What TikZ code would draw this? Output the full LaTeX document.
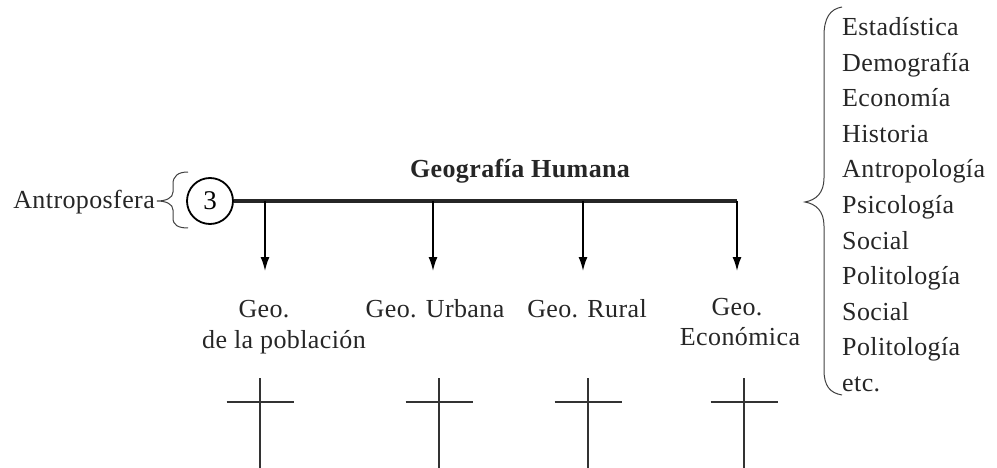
\documentclass[tikz,border=0pt]{standalone}
\usepackage{fontspec}
\setmainfont[LetterSpace=1.5]{Liberation Serif}
\usetikzlibrary{arrows.meta}
\begin{document}
\begin{tikzpicture}[x=1pt,y=-1pt,
  txt/.style={font=\fontsize{26}{30}\selectfont,inner sep=0pt,text=black!85},
  thin/.style={line width=1pt,black!75},
  arr/.style={line width=1.6pt,-{Latex[length=14pt,width=9pt]}},
  crossline/.style={line width=2pt,black!80}]
\useasboundingbox (0,0) rectangle (997,468);
% left part
\node[txt,anchor=base east] (antro) at (155,208) {Antroposfera};
\draw[thin] (188,172) .. controls (178,172) and (173,176) .. (173,184) -- (173,192)
  .. controls (173,198) and (166,201) .. (157,201)
  .. controls (166,201) and (173,204) .. (173,210) -- (173,218)
  .. controls (173,225) and (178,228) .. (188,228);
\node[draw,circle,line width=1.8pt,minimum size=46pt,inner sep=0pt,font=\fontsize{27}{30}\selectfont] (c3) at (210,201) {3};
\coordinate (lineend) at (737,201);
\draw[line width=4.5pt,black!85] (c3.east) -- (lineend);
\node[txt,anchor=base,font=\fontsize{26}{30}\selectfont\bfseries] (gh) at (520,178) {Geografía Humana};
% arrows
\foreach \i/\x in {1/265,2/433,3/583,4/737}{
  \coordinate (a\i) at (\x,201);
  \coordinate (t\i) at (\x,271);
  \draw[arr] (a\i) -- (t\i);
}
% labels
\node[txt,anchor=base] (l1a) at (264,317) {Geo.};
\node[txt,anchor=base] (l1b) at (284,348) {de la población};
\node[txt,anchor=base] (l2) at (435,317) {Geo. Urbana};
\node[txt,anchor=base] (l3) at (587,317) {Geo. Rural};
\node[txt,anchor=base] (l4a) at (737,315) {Geo.};
\node[txt,anchor=base] (l4b) at (740,345) {Económica};
% crosses
\foreach \i/\x in {1/260,2/439,3/588,4/744}{
  \coordinate (ct\i) at (\x,378);
  \coordinate (cb\i) at (\x,468);
  \coordinate (cl\i) at (\x-33.5,402);
  \coordinate (cr\i) at (\x+33.5,402);
  \draw[crossline] (ct\i) -- (cb\i);
  \draw[crossline] (cl\i) -- (cr\i);
}
% big brace
\draw[thin] (842,7) .. controls (830,9) and (824,18) .. (824,36) -- (824,178)
  .. controls (824,193) and (816,200) .. (805,202)
  .. controls (816,204) and (824,211) .. (824,226) -- (824,370)
  .. controls (824,386) and (830,393) .. (842,395);
% list
\foreach \i/\t in {0/Estadística,1/Demografía,2/Economía,3/Historia,4/Antropología,5/Psicología,6/Social,7/Politología,8/Social,9/Politología,10/etc.}{
  \node[txt,anchor=base west] (r\i) at (842,36+35.5*\i) {\t};
}
\end{tikzpicture}
\end{document}
